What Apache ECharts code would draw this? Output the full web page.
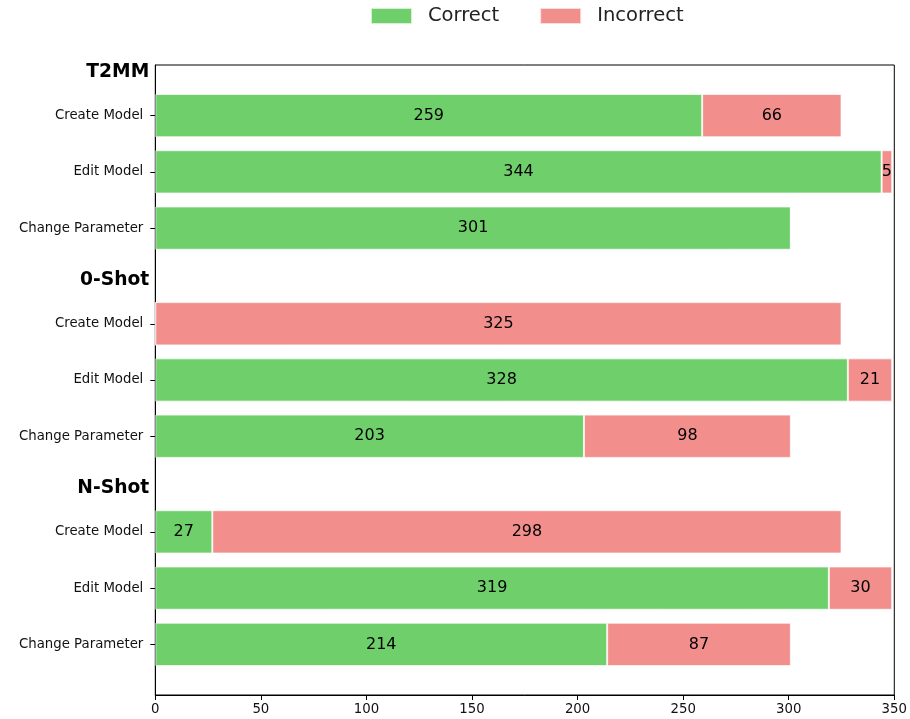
<!DOCTYPE html>
<html>
<head>
<meta charset="utf-8">
<script src="https://cdn.jsdelivr.net/npm/echarts@6/dist/echarts.min.js"></script>
<style>
  html, body { margin: 0; padding: 0; background: #fff; }
  #chart { width: 910px; height: 719px; }
</style>
</head>
<body>
<div id="chart"></div>
<script>
// ---- data ----
const groups = ['T2MM', '0-Shot', 'N-Shot'];
const tasks = ['Create Model', 'Edit Model', 'Change Parameter'];
const correctT2MM = [259, 344, 301];
const incorrectT2MM = [66, 5, 0];
const correct0Shot = [0, 328, 203];
const incorrect0Shot = [325, 21, 98];
const correctNShot = [27, 319, 214];
const incorrectNShot = [298, 30, 87];
const xTicks = [0, 50, 100, 150, 200, 250, 300, 350];

const correctByGroup = [correctT2MM, correct0Shot, correctNShot];
const incorrectByGroup = [incorrectT2MM, incorrect0Shot, incorrectNShot];

// ---- layout on a fine category grid (tenths of a bar pitch) ----
const START = -9, END = 103;
const N = END - START + 1;
const slots = [];
const slotLabel = new Array(N).fill('');
const slotIsHeader = new Array(N).fill(false);
const slotIsBar = new Array(N).fill(false);
const correctData = new Array(N).fill(null);
const incorrectData = new Array(N).fill(null);
for (let i = 0; i < N; i++) slots.push('s' + i);

groups.forEach((g, gi) => {
  const base = gi * 37;
  const h = base - 8 - START;
  slotLabel[h] = g;
  slotIsHeader[h] = true;
  tasks.forEach((t, ti) => {
    const idx = base + ti * 10 - START;
    slotLabel[idx] = t;
    slotIsBar[idx] = true;
    correctData[idx] = correctByGroup[gi][ti];
    incorrectData[idx] = incorrectByGroup[gi][ti];
  });
});

const GREEN = '#6fcf6b';
const RED = '#f28e8c';

const chart = echarts.init(document.getElementById('chart'));
const labelCfg = {
  show: true,
  position: 'inside',
  color: '#000',
  fontSize: 16,
  fontFamily: 'DejaVu Sans',
  formatter: p => (p.value ? String(p.value) : '')
};

chart.setOption({
  animation: false,
  textStyle: { fontFamily: 'DejaVu Sans' },
  legend: {
    top: 6,
    left: 370,
    padding: 0,
    itemWidth: 41,
    itemHeight: 16,
    itemGap: 40,
    icon: 'rect',
    textStyle: { fontSize: 19.5, color: '#222', lineHeight: 20, padding: [0, 0, 0, 11] },
    data: ['Correct', 'Incorrect']
  },
  grid: {
    left: 155.3,
    right: 9.7,
    top: 65,
    bottom: 24,
    show: true,
    borderColor: '#000',
    borderWidth: 1,
    backgroundColor: 'transparent'
  },
  xAxis: {
    type: 'value',
    min: xTicks[0],
    max: xTicks[xTicks.length - 1],
    interval: xTicks[1] - xTicks[0],
    axisLine: { show: true, lineStyle: { color: '#000', width: 1 } },
    axisTick: { show: true, length: 5, lineStyle: { color: '#000' } },
    splitLine: { show: false },
    axisLabel: { fontSize: 13.3, color: '#111', margin: 8 }
  },
  yAxis: {
    type: 'category',
    inverse: true,
    boundaryGap: false,
    data: slots,
    axisLine: { show: true, lineStyle: { color: '#000', width: 1 } },
    axisTick: {
      show: true,
      length: 5,
      interval: (i) => slotIsBar[i],
      lineStyle: { color: '#000' }
    },
    splitLine: { show: false },
    axisLabel: {
      interval: 0,
      margin: 6,
      formatter: (v, i) => {
        const s = slotLabel[i];
        if (!s) return '';
        return slotIsHeader[i] ? '{h|' + s + '}' : '{n|' + s + '}';
      },
      rich: {
        h: { fontSize: 18.7, fontWeight: 'bold', color: '#000', fontFamily: 'DejaVu Sans', padding: [3, 0, 0, 0] },
        n: { fontSize: 13.3, color: '#111', fontFamily: 'DejaVu Sans', padding: [0, 6, 0, 0] }
      }
    }
  },
  series: [
    {
      name: 'Correct',
      type: 'bar',
      stack: 'total',
      barWidth: 43.3,
      data: correctData,
      itemStyle: { color: GREEN, borderColor: 'rgba(255,255,255,0.7)', borderWidth: 1 },
      label: labelCfg
    },
    {
      name: 'Incorrect',
      type: 'bar',
      stack: 'total',
      barWidth: 43.3,
      data: incorrectData,
      itemStyle: { color: RED, borderColor: 'rgba(255,255,255,0.7)', borderWidth: 1 },
      label: labelCfg
    }
  ]
});
</script>
</body>
</html>
